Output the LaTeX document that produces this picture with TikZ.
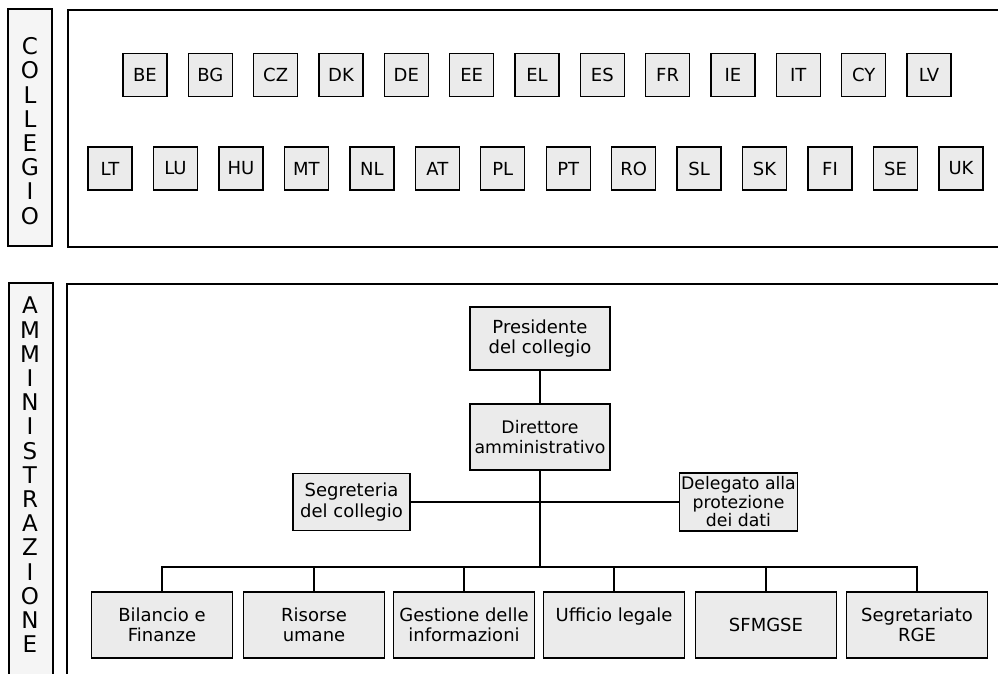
\documentclass[tikz,border=0pt]{standalone}
\usepackage{fontspec}
\setmainfont{DejaVu Sans}
\begin{document}
\begin{tikzpicture}[x=1pt,y=-1pt,
  line width=1.4pt,
  cbox/.style={draw, fill=black!8, minimum width=44pt, minimum height=43pt, inner sep=0pt, font=\fontsize{18}{20}\selectfont},
  obox/.style={draw, fill=black!8, inner sep=0pt, align=center, font=\fontsize{18}{20.5}\selectfont},
  bbox/.style={obox, minimum width=141pt, minimum height=66pt},
  sidetext/.style={align=center, inner sep=0pt, font=\fontsize{23}{24.2}\selectfont},
  frame/.style={line width=1.4pt}]
\useasboundingbox (0,0) rectangle (998,674);
% frames
\draw[frame] (998,10) -- (68,10) -- (68,247) -- (998,247);
\draw[frame] (998,284) -- (67,284) -- (67,674);
% side labels
\draw[frame, fill=black!4] (8,9) rectangle (52,246);
\fill[black!4] (9,283) rectangle (53,674);
\draw[frame] (9,674) -- (9,283) -- (53,283) -- (53,674);
\node[sidetext] (lcoll) at (30,131) {C\\O\\L\\L\\E\\G\\I\\O};
\node[sidetext] (lamm) at (30,475) {A\\M\\M\\I\\N\\I\\S\\T\\R\\A\\Z\\I\\O\\N\\E};
% countries
\foreach \c [count=\i] in {BE,BG,CZ,DK,DE,EE,EL,ES,FR,IE,IT,CY,LV}
  \node[cbox] (ra\i) at ({145+65.33*(\i-1)},75) {\c};
\foreach \c [count=\i] in {LT,LU,HU,MT,NL,AT,PL,PT,RO,SL,SK,FI,SE,UK}
  \node[cbox] (rb\i) at ({110+65.46*(\i-1)},168.5) {\c};
% org chart
\node[obox, minimum width=140pt, minimum height=63pt] (pres) at (540,338.5) {Presidente\\del collegio};
\node[obox, minimum width=140pt, minimum height=66pt, font=\fontsize{17.3}{20.5}\selectfont] (dir) at (540,437) {Direttore\\amministrativo};
\node[obox, minimum width=117pt, minimum height=57pt] (seg) at (351.5,502) {Segreteria\\del collegio};
\node[obox, minimum width=118pt, minimum height=58pt, font=\fontsize{17.3}{18.5}\selectfont] (dpo) at (738.5,502) {Delegato alla\\protezione\\dei dati};
\node[bbox] (b1) at (162,625) {Bilancio e\\Finanze};
\node[bbox] (b2) at (314,625) {Risorse\\umane};
\node[bbox] (b3) at (464,625) {Gestione delle\\informazioni};
\node[bbox] (b4) at (614,625) {Ufficio legale\\\mbox{}};
\node[bbox] (b5) at (766,625) {SFMGSE};
\node[bbox] (b6) at (917,625) {Segretariato\\RGE};
\coordinate (bus) at (540,567);
\draw (pres) -- (dir);
\draw (dir.south) -- (bus);
\draw (seg.east) -- (dpo.west);
\draw (b1.north) -- (b1.north |- bus) -- (b6.north |- bus) -- (b6.north);
\foreach \i in {2,...,5} \draw (b\i.north) -- (b\i.north |- bus);
\end{tikzpicture}
\end{document}
